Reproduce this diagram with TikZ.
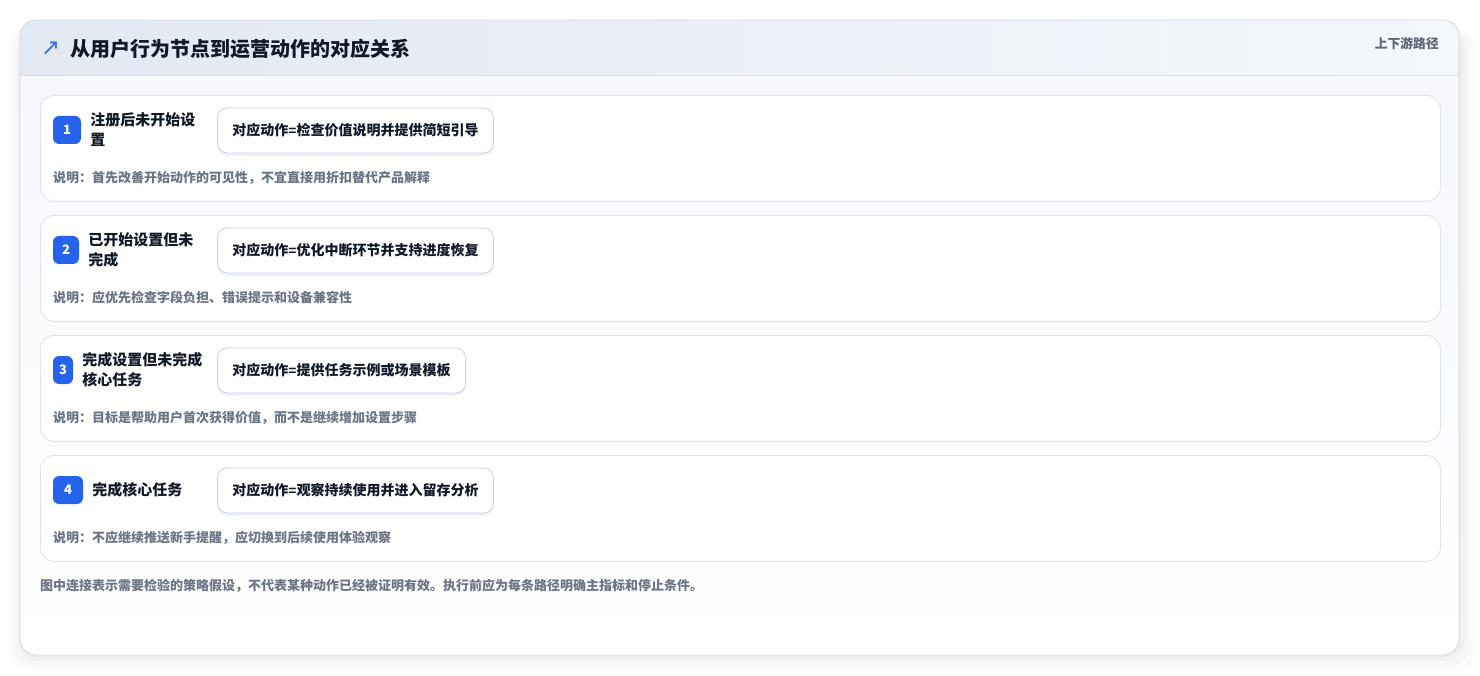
\documentclass[tikz,border=0pt]{standalone}
\usepackage{fontspec}
\setmainfont{Noto Sans CJK SC}
\newfontfamily\symfont{DejaVu Sans}
\newfontfamily\latinfont{Liberation Sans}
\usetikzlibrary{positioning,shadows}

\definecolor{cardline}{HTML}{D3DAE4}
\definecolor{hdrleft}{HTML}{E3E9F2}
\definecolor{hdrright}{HTML}{F4F7FB}
\definecolor{hdrline}{HTML}{D9E2EE}
\definecolor{bodytop}{HTML}{F6F8FC}
\definecolor{rowline}{HTML}{DCE5F1}
\definecolor{actline}{HTML}{C5D4EC}
\definecolor{badgeblue}{HTML}{2563EB}
\definecolor{titleink}{HTML}{111827}
\definecolor{noteink}{HTML}{6B7585}
\definecolor{tagink}{HTML}{5B6676}
\definecolor{iconblue}{HTML}{3F6FD9}

\begin{document}
\begin{tikzpicture}[x=1pt,y=-1pt,
  rowbox/.style={draw=rowline, fill=white, rounded corners=14pt, line width=0.8pt,
    minimum width=1400pt, minimum height=106pt, anchor=north west},
  badge/.style={fill=badgeblue, rounded corners=6pt, text=white, inner sep=0pt,
    minimum height=28pt, font=\fontsize{13}{13}\selectfont\bfseries},
  steplabel/.style={align=left, inner sep=0pt, text=titleink,
    font=\fontsize{15}{20}\selectfont\bfseries},
  actbox/.style={draw=actline, fill=white, rounded corners=10pt, line width=0.8pt,
    minimum height=45pt, inner xsep=15pt, anchor=west, text=titleink,
    font=\fontsize{14}{14}\selectfont\bfseries,
    drop shadow={shadow xshift=0pt, shadow yshift=-3pt, opacity=0.05, fill=black}},
  note/.style={anchor=west, inner sep=0pt, text=noteink,
    font=\fontsize{13}{13}\selectfont\bfseries}]

\useasboundingbox (0,0) rectangle (1480,676);

% soft shadow of the card
\foreach \s/\o in {16/0.012,11/0.018,6/0.025,2/0.03}
  \fill[black, opacity=\o, rounded corners=20pt] (20-\s+4,20+8) rectangle (1459+\s,655+\s);

% card with header band
\begin{scope}
  \clip[rounded corners=16pt] (20,20) rectangle (1459,655);
  \fill[white] (20,20) rectangle (1459,655);
  \shade[top color=bodytop, bottom color=white] (20,75) rectangle (1459,655);
  \shade[left color=hdrleft, right color=hdrright] (20,20) rectangle (1459,75);
\end{scope}
\draw[hdrline, line width=0.8pt] (20,75) -- (1459,75);
\draw[cardline, line width=0.8pt, rounded corners=16pt] (20,20) rectangle (1459,655);

\node[text=iconblue, font=\symfont\fontsize{23}{23}\selectfont] (icon) at (50.5,49) {↗};
\node[anchor=west, inner sep=0pt, text=titleink, font=\fontsize{20}{20}\selectfont\bfseries]
  (title) at (70,49) {从用户行为节点到运营动作的对应关系};
\node[anchor=east, inner sep=0pt, text=tagink, font=\fontsize{12.8}{12.8}\selectfont\bfseries]
  (tag) at (1439,44) {上下游路径};

% one row per user state
\foreach \i/\rowy/\bw/\lab/\act/\desc in {
  1/95/28/{注册后未开始设\\置}/{检查价值说明并提供简短引导}/{说明：首先改善开始动作的可见性，不宜直接用折扣替代产品解释},
  2/215/26/{已开始设置但未\\完成}/{优化中断环节并支持进度恢复}/{说明：应优先检查字段负担、错误提示和设备兼容性},
  3/335/20/{完成设置但未完成\\核心任务}/{提供任务示例或场景模板}/{说明：目标是帮助用户首次获得价值，而不是继续增加设置步骤},
  4/455/30/{完成核心任务}/{观察持续使用并进入留存分析}/{说明：不应继续推送新手提醒，应切换到后续使用体验观察}}
{
  \node[rowbox] (row\i) at (40,\rowy) {};
  \node[badge, minimum width=\bw pt] (badge\i) at (53+\bw/2,\rowy+35) {\i};
  \node[steplabel, right=9pt of badge\i] (label\i) {\lab};
  \node[actbox] (act\i) at (217,\rowy+35.5) {对应动作{\latinfont\bfseries=}\act};
  \node[note] (desc\i) at (53,\rowy+83) {\desc};
}

\node[note] (footer) at (40,586)
  {图中连接表示需要检验的策略假设，不代表某种动作已经被证明有效。执行前应为每条路径明确主指标和停止条件。};

\end{tikzpicture}
\end{document}
